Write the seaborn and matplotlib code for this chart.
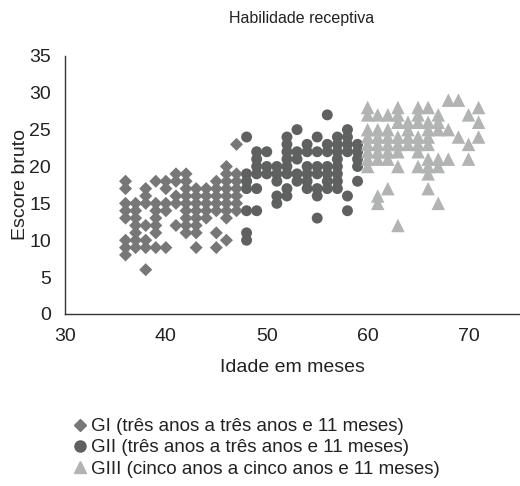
import pandas as pd
import numpy as np
import matplotlib
matplotlib.use("Agg")
import matplotlib.pyplot as plt
import seaborn as sns

sns.set_style("white")
plt.rcParams['font.family'] = ['Liberation Sans', 'DejaVu Sans']

# Scores, grouped by age in months
gi_ages = [36, 37, 38, 39, 40, 41, 42, 43, 44, 45, 46, 47]
gi_scores = [
    [18, 17, 15, 14, 13, 10, 9, 8],
    [15, 14, 13, 12, 11, 10, 9],
    [17, 16, 15, 12, 10, 9, 6],
    [18, 15, 14, 13, 12, 11, 9],
    [18, 17, 15, 14, 9],
    [19, 18, 16, 15, 12],
    [19, 18, 17, 16, 15, 14, 13, 12, 11],
    [17, 16, 15, 14, 13, 12, 11, 9],
    [17, 16, 15, 14, 13],
    [18, 17, 16, 15, 14, 11, 9],
    [20, 19, 18, 17, 16, 15, 14, 13, 10],
    [23, 19, 18, 17, 16, 15, 14],
]
gii_ages = [48, 49, 50, 51, 52, 53, 54, 55, 56, 57, 58, 59]
gii_scores = [
    [24, 19, 18, 17, 14, 11, 10],
    [22, 21, 20, 19, 17, 14],
    [22, 20, 19],
    [20, 19, 18, 16, 15],
    [24, 23, 22, 21, 20, 19, 17, 16],
    [25, 22, 21, 19, 18],
    [23, 22, 20, 19, 18, 17],
    [24, 22, 20, 19, 17, 16, 13],
    [27, 23, 22, 20, 19, 18, 17],
    [24, 23, 22, 21, 20, 19, 18, 17],
    [25, 24, 23, 22, 16, 14],
    [23, 22, 21, 20, 18],
]
giii_ages = [60, 61, 62, 63, 64, 65, 66, 67, 68, 69, 70, 71]
giii_scores = [
    [28, 27, 25, 24, 23, 22, 21, 20],
    [27, 25, 24, 23, 22, 21, 16, 15],
    [27, 25, 24, 23, 22, 21, 17],
    [28, 27, 26, 24, 23, 22, 20, 12],
    [26, 25, 24, 23],
    [28, 27, 26, 24, 23, 22, 20],
    [28, 26, 25, 24, 23, 21, 20, 19, 17],
    [27, 26, 25, 21, 20, 15],
    [29, 25, 21],
    [29, 24],
    [27, 23, 21],
    [28, 26, 24],
]

labels = [
    "GI (três anos a três anos e 11 meses)",
    "GII (três anos a três anos e 11 meses)",
    "GIII (cinco anos a cinco anos e 11 meses)",
]

rows = []
for lab, ages, scores in zip(labels, [gi_ages, gii_ages, giii_ages],
                             [gi_scores, gii_scores, giii_scores]):
    for a, sc in zip(ages, scores):
        for s in sc:
            rows.append({"Idade": a, "Escore": s, "Grupo": lab})
df = pd.DataFrame(rows)

palette = {labels[0]: "#777777", labels[1]: "#5f6060", labels[2]: "#b2b3b3"}
markers = {labels[0]: "D", labels[1]: "o", labels[2]: "^"}
sizes = {labels[0]: 44, labels[1]: 62, labels[2]: 95}

fig = plt.figure(figsize=(5.2, 4.86), dpi=100)
ax = fig.add_axes([0.125, 0.354, 0.873, 0.531])

sns.scatterplot(data=df, x="Idade", y="Escore", hue="Grupo", style="Grupo",
                size="Grupo", sizes=sizes, palette=palette, markers=markers,
                linewidth=0, edgecolor="none", ax=ax, legend=False)

ax.set_xlim(30, 75)
ax.set_ylim(0, 35)
ax.set_xticks([30, 40, 50, 60, 70])
ax.set_yticks(range(0, 36, 5))
ax.tick_params(length=0, labelsize=14, pad=10, colors="#222222")
for side in ["top", "right"]:
    ax.spines[side].set_visible(False)
for side in ["left", "bottom"]:
    ax.spines[side].set_color("#333333")
    ax.spines[side].set_linewidth(1)

ax.set_xlabel("Idade em meses", fontsize=14, labelpad=10, color="#222222")
ax.set_ylabel("Escore bruto", fontsize=14, labelpad=0, color="#222222")
fig.text(0.579, 0.962, "Habilidade receptiva", ha="center", va="center",
         fontsize=11.5, color="#222222")

# legend below the plot, no frame
handles = [
    plt.Line2D([], [], linestyle="", marker="D", color=palette[labels[0]], markersize=6.5),
    plt.Line2D([], [], linestyle="", marker="o", color=palette[labels[1]], markersize=8),
    plt.Line2D([], [], linestyle="", marker="^", color=palette[labels[2]], markersize=8),
]
fig.legend(handles, labels, loc="upper left", bbox_to_anchor=(0.135, 0.14),
           frameon=False, fontsize=13.5, handletextpad=0.1, labelspacing=0.22,
           borderaxespad=0, borderpad=0, handlelength=1.0, labelcolor="#222222")

fig.savefig("out.png", dpi=100)
